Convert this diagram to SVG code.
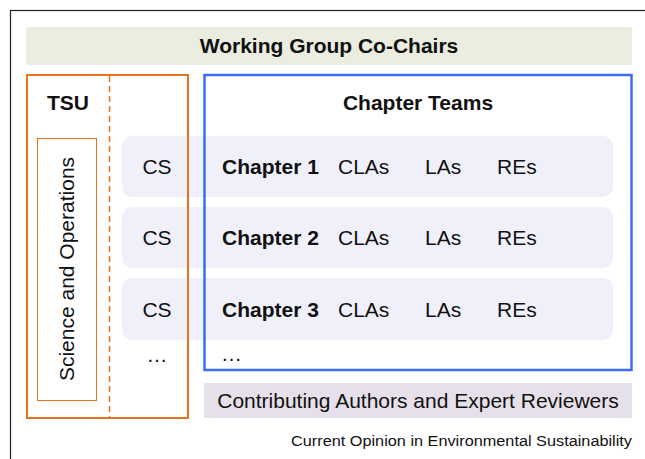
<svg xmlns="http://www.w3.org/2000/svg" width="645" height="459" viewBox="0 0 645 459">
<style>
text{font-family:"Liberation Sans",Arial,sans-serif;fill:#111;font-size:21px}
.b{font-weight:bold}
.row{fill:#f0f0fb}
.c{text-anchor:middle}
</style>
<rect x="0" y="0" width="645" height="459" fill="#fff"/>
<rect x="10.5" y="10.5" width="700" height="500" fill="none" stroke="#222" stroke-width="1.2"/>
<g id="cochairs">
<rect x="26" y="27" width="606" height="38" fill="#eaeddf"/>
<text class="b c" x="329" y="53">Working Group Co-Chairs</text>
</g>
<g id="rows">
<rect class="row" x="122" y="136" width="491" height="61" rx="10"/>
<rect class="row" x="122" y="207" width="491" height="61" rx="10"/>
<rect class="row" x="122" y="278" width="491" height="62" rx="10"/>
</g>
<g id="tsu">
<rect x="27" y="75" width="161" height="343" fill="none" stroke="#e8731e" stroke-width="2"/>
<line x1="109.5" y1="76" x2="109.5" y2="417" stroke="#e8731e" stroke-width="1.5" stroke-dasharray="6,4"/>
<text class="b c" x="68" y="110">TSU</text>
</g>
<g id="scienceops">
<rect x="37.5" y="138.5" width="59" height="262" fill="none" stroke="#e8731e" stroke-width="1"/>
<text class="c" transform="translate(74,269) rotate(-90)">Science and Operations</text>
</g>
<g id="chapterteams">
<rect x="204.5" y="75" width="427" height="295" fill="none" stroke="#3b6cf5" stroke-width="2.5"/>
<text class="b c" x="418" y="110">Chapter Teams</text>
</g>
<g id="chapter1">
<text class="c" x="157" y="174">CS</text>
<text class="b" x="222" y="174">Chapter 1</text>
<text x="338" y="174">CLAs</text>
<text x="425" y="174">LAs</text>
<text x="497" y="174">REs</text>
</g>
<g id="chapter2">
<text class="c" x="157" y="245">CS</text>
<text class="b" x="222" y="245">Chapter 2</text>
<text x="338" y="245">CLAs</text>
<text x="425" y="245">LAs</text>
<text x="497" y="245">REs</text>
</g>
<g id="chapter3">
<text class="c" x="157" y="317">CS</text>
<text class="b" x="222" y="317">Chapter 3</text>
<text x="338" y="317">CLAs</text>
<text x="425" y="317">LAs</text>
<text x="497" y="317">REs</text>
</g>
<g id="more">
<text class="c" x="157" y="362">…</text>
<text x="221" y="361">…</text>
</g>
<g id="contributing">
<rect x="204" y="383" width="428" height="35" fill="#e5e0ea"/>
<text class="c" x="418" y="408">Contributing Authors and Expert Reviewers</text>
</g>
<text x="632" y="446" text-anchor="end" style="font-size:14px" textLength="341" lengthAdjust="spacingAndGlyphs">Current Opinion in Environmental Sustainability</text>
<g id="connectors"></g>
</svg>
